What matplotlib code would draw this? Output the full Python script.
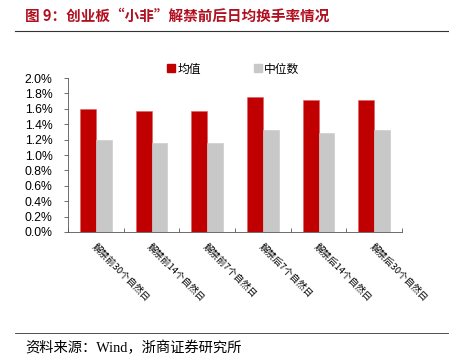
import numpy as np
import matplotlib
matplotlib.use("Agg")
import matplotlib.pyplot as plt
from matplotlib.lines import Line2D
from matplotlib.ticker import FuncFormatter, FixedLocator

plt.rcParams['font.family'] = ['Liberation Sans', 'Noto Sans CJK SC', 'DejaVu Sans']

CATEGORIES = ["解禁前30个自然日", "解禁前14个自然日", "解禁前7个自然日",
              "解禁后7个自然日", "解禁后14个自然日", "解禁后30个自然日"]
MEAN = [1.60, 1.57, 1.57, 1.75, 1.72, 1.72]     # 均值, %
MEDIAN = [1.19, 1.16, 1.16, 1.32, 1.29, 1.33]   # 中位数, %

RED = "#C00000"
GREY = "#C8C8C8"
CJK = ['Noto Sans CJK SC', 'DejaVu Sans']

fig = plt.figure(figsize=(4.49, 3.6), dpi=100)
ax = fig.add_axes([68 / 449, 1 - 232 / 360, 334 / 449, 154 / 360])

x = np.arange(len(CATEGORIES))
w = 0.285
ax.bar(x - w / 2, MEAN, w, color=RED, edgecolor="#E06060", lw=0.4, label="均值")
ax.bar(x + w / 2, MEDIAN, w, color=GREY, edgecolor=GREY, lw=0.4, label="中位数")

ax.set_xlim(-0.5, len(CATEGORIES) - 0.5)
ax.set_ylim(0, 2.0)
ax.set_yticks(np.arange(0, 2.01, 0.2))
ax.yaxis.set_major_formatter(FuncFormatter(lambda v, p: f"{v:.1f}%"))
ax.tick_params(axis="y", direction="out", length=3, width=0.6, color="#555555",
               labelsize=8.8, pad=8)

# category separators as inward ticks, labels at centres
ax.xaxis.set_major_locator(FixedLocator(np.arange(-0.5, len(CATEGORIES), 1.0)))
ax.set_xticklabels([])
ax.tick_params(axis="x", which="major", direction="in", length=3, width=0.6, color="#555555")
for xi, lab in zip(x, CATEGORIES):
    ax.text(xi - 0.05, -0.17, lab, rotation=-45, rotation_mode="anchor",
            ha="left", va="center", fontsize=6.8, family=CJK, clip_on=False)

for s in ["top", "right"]:
    ax.spines[s].set_visible(False)
for s in ["left", "bottom"]:
    ax.spines[s].set_linewidth(0.6)
    ax.spines[s].set_color("#555555")

# legend
handles = [Line2D([], [], marker="s", ls="", color=RED, markersize=6),
           Line2D([], [], marker="s", ls="", color=GREY, markersize=6)]
fig.legend(handles, ["均值", "中位数"], loc="center", bbox_to_anchor=(0.519, 1 - 69 / 360),
           ncol=2, frameon=False, handletextpad=0.1, columnspacing=4.5,
           handlelength=0.8, prop={'family': CJK, 'size': 8.5})

# title and source
fig.text(25 / 449, 1 - 16 / 360, "图 9：创业板“小非”解禁前后日均换手率情况", color="#B01020",
         fontsize=10.5, fontweight="bold", va="center", ha="left", family=CJK)
fig.add_artist(Line2D([15 / 449, 1.0], [1 - 31 / 360, 1 - 31 / 360], color="#333333", lw=0.8))
fig.add_artist(Line2D([15 / 449, 1.0], [1 - 333 / 360, 1 - 333 / 360], color="#333333", lw=0.6))
fig.text(25 / 449, 1 - 348 / 360, "资料来源：Wind，浙商证券研究所", fontsize=10.3,
         va="center", ha="left", family=['Liberation Serif', 'Noto Sans CJK SC', 'DejaVu Sans'])

fig.savefig("out.png", dpi=100)
